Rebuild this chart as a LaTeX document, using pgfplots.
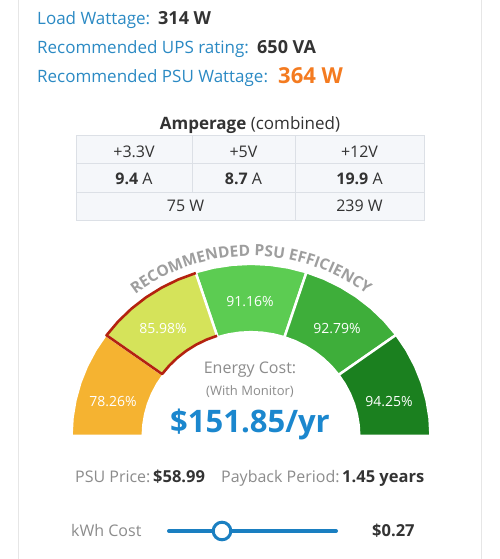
\documentclass[border=0pt]{standalone}
\usepackage{pgfplots}
\pgfplotsset{compat=1.18}
\usepackage{fontspec}
\setmainfont{Open Sans}
\usetikzlibrary{decorations.text}
\definecolor{lblue}{HTML}{2B8AC4}
\definecolor{dark}{HTML}{333333}
\definecolor{orangev}{HTML}{F47B20}
\definecolor{gtxt}{HTML}{8C8C8C}
\definecolor{bigblue}{HTML}{1B87CE}
\definecolor{sblue}{HTML}{1A7FC1}
\definecolor{tborder}{HTML}{DCE0E6}
\definecolor{tfill}{HTML}{F5F7FA}
\definecolor{sa}{HTML}{F5B331}
\definecolor{sb}{HTML}{D5E35A}
\definecolor{sc}{HTML}{5CCC52}
\definecolor{sd}{HTML}{3EAE3A}
\definecolor{se}{HTML}{1B801F}
\definecolor{redb}{HTML}{B4220F}
\definecolor{arcg}{HTML}{9E9E9E}
\definecolor{frame}{HTML}{E6E6E6}
\newcommand{\fs}[1]{\fontsize{#1pt}{#1pt}\selectfont}
\begin{document}
\begin{tikzpicture}[every node/.style={inner sep=0pt}]
\useasboundingbox (0,0) rectangle (500pt,559pt);
\fill[white] (0,0) rectangle (500pt,559pt);
% main axis: image coordinates
\begin{axis}[at={(0,0)}, anchor=south west, width=500pt, height=559pt, scale only axis,
  xmin=0, xmax=500, ymin=0, ymax=559, y dir=reverse, hide axis, clip=false]
\addplot[color=frame, line width=1pt] coordinates {(18.5,0) (18.5,559)};
\addplot[color=frame, line width=1pt] coordinates {(481.7,0) (481.7,559)};
% slider
\addplot[color=sblue, line width=4pt, line cap=round] coordinates {(169,531) (336,531)};
\addplot[only marks, mark=*, mark size=8.8pt, mark options={draw=sblue, fill=white, line width=3pt}] coordinates {(222,531)};
\end{axis}
% gauge axis
\begin{axis}[at={(251pt,123pt)}, anchor=south, width=359pt, height=172.2pt, scale only axis,
  xmin=-1, xmax=1, ymin=0, ymax=1, hide axis, clip=false, data cs=polar]
\addplot[fill=sa, draw=white, line width=2.5pt] coordinates {(180,1)(174,1)(168,1)(162,1)(156,1)(150,1)(144,1)(144,0.603)(150,0.603)(156,0.603)(162,0.603)(168,0.603)(174,0.603)(180,0.603)} --cycle;
\addplot[fill=sc, draw=white, line width=2.5pt] coordinates {(108,1)(102,1)(96,1)(90,1)(84,1)(78,1)(72,1)(72,0.603)(78,0.603)(84,0.603)(90,0.603)(96,0.603)(102,0.603)(108,0.603)} --cycle;
\addplot[fill=sd, draw=white, line width=2.5pt] coordinates {(72,1)(66,1)(60,1)(54,1)(48,1)(42,1)(36,1)(36,0.603)(42,0.603)(48,0.603)(54,0.603)(60,0.603)(66,0.603)(72,0.603)} --cycle;
\addplot[fill=se, draw=white, line width=2.5pt] coordinates {(36,1)(30,1)(24,1)(18,1)(12,1)(6,1)(0,1)(0,0.603)(6,0.603)(12,0.603)(18,0.603)(24,0.603)(30,0.603)(36,0.603)} --cycle;
\addplot[fill=sb, draw=white, line width=2.5pt] coordinates {(144,1)(138,1)(132,1)(126,1)(120,1)(114,1)(108,1)(108,0.603)(114,0.603)(120,0.603)(126,0.603)(132,0.603)(138,0.603)(144,0.603)} --cycle;
\addplot[draw=redb, line width=2.6pt, line join=round] coordinates {(108,0.612)(114,0.612)(120,0.612)(126,0.612)(132,0.612)(138,0.612)(144,0.612)(144,0.995)(138,0.995)(132,0.995)(126,0.995)(120,0.995)(114,0.995)(108,0.995)};
\end{axis}
% curved title
\path[decorate, decoration={text along path, text align=center,
  text={|\fs{15.5}\bfseries\color{arcg}|RECOMMENDED PSU EFFICIENCY}}]
  (63.4pt,123pt) arc[start angle=180, end angle=0, x radius=187.6pt, y radius=180pt];
% texts in image coordinates
\begin{scope}[x=1pt, y=-1pt, shift={(0,559pt)}]
\node[anchor=base west, text=lblue] at (37,25) {\fs{17}Load Wattage:};
\node[anchor=base west, text=dark] at (158,25) {\fs{18}\bfseries 314 W};
\node[anchor=base west, text=lblue] at (37,53.5) {\fs{17}Recommended UPS rating:};
\node[anchor=base west, text=dark] at (257,53.5) {\fs{18}\bfseries 650 VA};
\node[anchor=base west, text=lblue] at (37,83) {\fs{17}Recommended PSU Wattage:};
\node[anchor=base west, text=orangev] at (278,84) {\fs{22}\bfseries 364 W};
\node[anchor=base, text=dark] at (250,130) {\fs{17}\textbf{Amperage} (combined)};
% table
\filldraw[fill=tfill, draw=tborder, line width=1pt] (76,136) rectangle (424,221);
\draw[tborder, line width=1pt] (76,164) -- (424,164);
\draw[tborder, line width=1pt] (76,193) -- (424,193);
\draw[tborder, line width=1pt] (192,136) -- (192,193);
\draw[tborder, line width=1pt] (295,136) -- (295,221);
\node[anchor=base, text=dark] at (134,158) {\fs{16}+3.3V};
\node[anchor=base, text=dark] at (243.5,158) {\fs{16}+5V};
\node[anchor=base, text=dark] at (359.5,158) {\fs{16}+12V};
\node[anchor=base, text=dark] at (134,185) {\fs{16}\textbf{9.4} A};
\node[anchor=base, text=dark] at (243.5,185) {\fs{16}\textbf{8.7} A};
\node[anchor=base, text=dark] at (359.5,185) {\fs{16}\textbf{19.9} A};
\node[anchor=base, text=dark] at (185.5,212) {\fs{16}75 W};
\node[anchor=base, text=dark] at (359.5,212) {\fs{16}239 W};
% gauge labels
\node[text=white] at (113,402) {\fs{14}78.26\%};
\node[text=white] at (163,329) {\fs{14}85.98\%};
\node[text=white] at (250,302) {\fs{14}91.16\%};
\node[text=white] at (337,329) {\fs{14}92.79\%};
\node[text=white] at (389,402) {\fs{14}94.25\%};
\node[anchor=base, text=gtxt] at (250,374) {\fs{16}Energy Cost:};
\node[anchor=base, text=gtxt] at (250,396) {\fs{13}(With Monitor)};
\node[anchor=base, text=bigblue] at (250,433) {\fs{31}\bfseries \$151.85/yr};
% bottom
\node[anchor=base west, text=gtxt] at (75,483) {\fs{16}PSU Price:};
\node[anchor=base west, text=dark] at (153,483) {\fs{16.5}\bfseries \$58.99};
\node[anchor=base west, text=gtxt] at (221,483) {\fs{16}Payback Period:};
\node[anchor=base west, text=dark] at (342,483) {\fs{16.5}\bfseries 1.45 years};
\node[anchor=base west, text=gtxt] at (71,537) {\fs{16}kWh Cost};
\node[anchor=base west, text=dark] at (372,537) {\fs{16.5}\bfseries \$0.27};
\end{scope}
\end{tikzpicture}
\end{document}
